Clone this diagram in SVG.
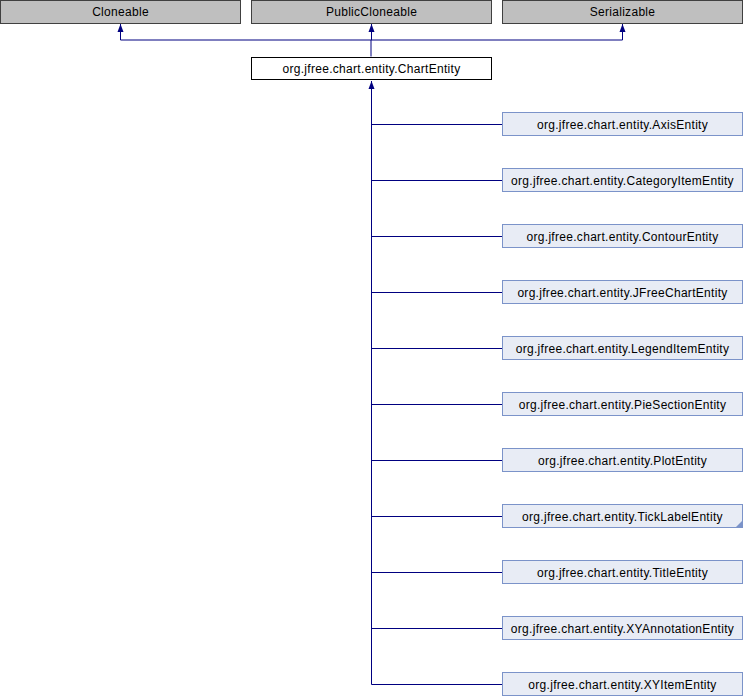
<svg xmlns="http://www.w3.org/2000/svg" width="743" height="696" viewBox="0 0 743 696">
<style>
text{font-family:"Liberation Sans",Arial,sans-serif;font-size:12px;letter-spacing:0.3px;text-anchor:middle;fill:#000}
.ext{fill:#bfbfbf;stroke:#404040;stroke-width:1}
.main{fill:#fff;stroke:#000;stroke-width:1}
.cls{fill:#e8ecf5;stroke:#7b93c9;stroke-width:1}
.edge{fill:none;stroke:#000080;stroke-width:1}
</style>
<defs>
<marker id="arr" viewBox="0 0 8 8" refX="8" refY="4" markerWidth="8" markerHeight="8" markerUnits="userSpaceOnUse" orient="auto">
<path d="M0,1 L8,4 L0,7 z" fill="#000080"/>
</marker>
</defs>
<rect width="743" height="696" fill="#fff"/>
<g id="edges">
<path class="edge" d="M371,56.5 V40 M120.5,40 H622.5" />
<path class="edge" d="M120.5,40 V24" marker-end="url(#arr)"/>
<path class="edge" d="M371.5,40 V24" marker-end="url(#arr)"/>
<path class="edge" d="M622.5,40 V24" marker-end="url(#arr)"/>
<path class="edge" d="M371.5,684.5 V81" marker-end="url(#arr)"/>
<path class="edge" d="M371.5,124.5 H502 M371.5,180.5 H502 M371.5,236.5 H502 M371.5,292.5 H502 M371.5,348.5 H502 M371.5,404.5 H502 M371.5,460.5 H502 M371.5,516.5 H502 M371.5,572.5 H502 M371.5,628.5 H502 M371.5,684.5 H502"/>
</g>
<g id="Cloneable"><rect class="ext" x="0.5" y="0.5" width="240" height="23"/><text x="120.5" y="16">Cloneable</text></g>
<g id="PublicCloneable"><rect class="ext" x="251.5" y="0.5" width="240" height="23"/><text x="371.5" y="16">PublicCloneable</text></g>
<g id="Serializable"><rect class="ext" x="502.5" y="0.5" width="240" height="23"/><text x="622.5" y="16">Serializable</text></g>
<g id="ChartEntity"><rect class="main" x="251.5" y="57.5" width="240" height="22"/><text x="371.5" y="73">org.jfree.chart.entity.ChartEntity</text></g>
<g id="AxisEntity"><rect class="cls" x="502.5" y="112.5" width="240" height="23"/><text x="622.5" y="128.5">org.jfree.chart.entity.AxisEntity</text></g>
<g id="CategoryItemEntity"><rect class="cls" x="502.5" y="168.5" width="240" height="23"/><text x="622.5" y="184.5">org.jfree.chart.entity.CategoryItemEntity</text></g>
<g id="ContourEntity"><rect class="cls" x="502.5" y="224.5" width="240" height="23"/><text x="622.5" y="240.5">org.jfree.chart.entity.ContourEntity</text></g>
<g id="JFreeChartEntity"><rect class="cls" x="502.5" y="280.5" width="240" height="23"/><text x="622.5" y="296.5">org.jfree.chart.entity.JFreeChartEntity</text></g>
<g id="LegendItemEntity"><rect class="cls" x="502.5" y="336.5" width="240" height="23"/><text x="622.5" y="352.5">org.jfree.chart.entity.LegendItemEntity</text></g>
<g id="PieSectionEntity"><rect class="cls" x="502.5" y="392.5" width="240" height="23"/><text x="622.5" y="408.5">org.jfree.chart.entity.PieSectionEntity</text></g>
<g id="PlotEntity"><rect class="cls" x="502.5" y="448.5" width="240" height="23"/><text x="622.5" y="464.5">org.jfree.chart.entity.PlotEntity</text></g>
<g id="TickLabelEntity"><rect class="cls" x="502.5" y="504.5" width="240" height="23"/><path d="M742,521 L742,527 L736,527 z" fill="#7b93c9"/><text x="622.5" y="520.5">org.jfree.chart.entity.TickLabelEntity</text></g>
<g id="TitleEntity"><rect class="cls" x="502.5" y="560.5" width="240" height="23"/><text x="622.5" y="576.5">org.jfree.chart.entity.TitleEntity</text></g>
<g id="XYAnnotationEntity"><rect class="cls" x="502.5" y="616.5" width="240" height="23"/><text x="622.5" y="632.5">org.jfree.chart.entity.XYAnnotationEntity</text></g>
<g id="XYItemEntity"><rect class="cls" x="502.5" y="672.5" width="240" height="23"/><text x="622.5" y="688.5">org.jfree.chart.entity.XYItemEntity</text></g>
</svg>
